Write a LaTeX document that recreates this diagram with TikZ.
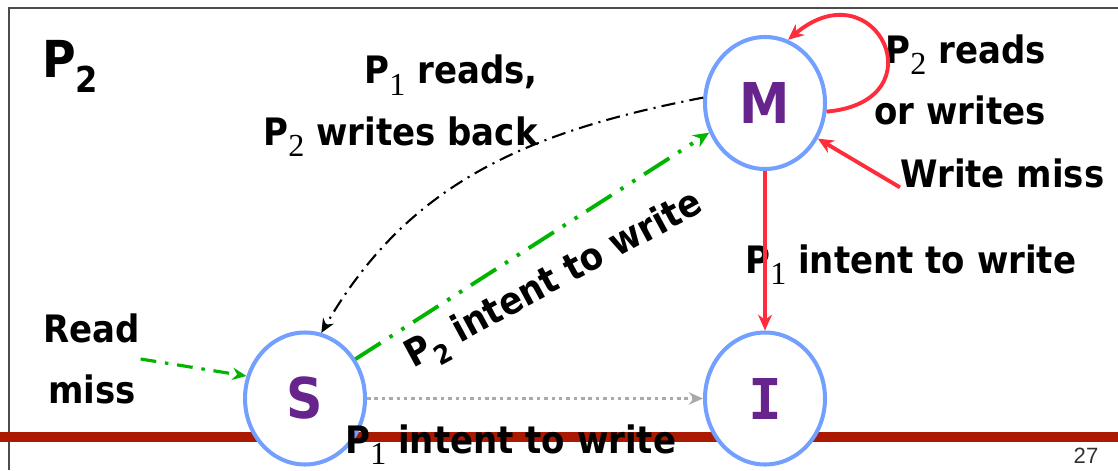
\documentclass[tikz,border=0pt]{standalone}
\usepackage{fontspec}
\setmainfont{DejaVu Sans}[FakeStretch=0.9]
\newfontfamily\subserif{Liberation Serif}[Scale=0.85]
\newfontfamily\subsans{DejaVu Sans}[Scale=0.7,FakeStretch=0.9]
\newfontfamily\statemono{DejaVu Sans Mono}
\newfontfamily\pagefont{Liberation Sans}
\usetikzlibrary{arrows.meta, shapes.geometric}

\definecolor{StateRing}{RGB}{115,160,255}
\definecolor{StateLetter}{RGB}{102,36,140}
\definecolor{BusRed}{RGB}{255,45,60}
\definecolor{BusGreen}{RGB}{0,180,0}
\definecolor{SnoopGray}{RGB}{170,170,170}
\definecolor{SlideBar}{RGB}{170,25,0}

% processor names, with a Times style or a sans subscript
\newcommand{\Pser}[1]{P\raisebox{-0.3em}{\subserif\mdseries #1}}
\newcommand{\Psan}[1]{P\raisebox{-0.3em}{\subsans #1}}

\tikzset{
    state/.style={ellipse, draw=StateRing, line width=2.3pt, fill=white,
        minimum width=2.4cm, minimum height=2.64cm, inner sep=0pt,
        text=StateLetter, font=\fontsize{32}{32}\selectfont\bfseries},
    lbl/.style={inner sep=0pt, font=\fontsize{21.5}{35}\selectfont\bfseries},
    red edge/.style={draw=BusRed, line width=2.2pt,
        -{Stealth[length=9pt, width=8pt]}},
    writeback edge/.style={draw=black, line width=1.2pt,
        dash pattern=on 8pt off 3.5pt on 1.2pt off 3.5pt,
        -{Stealth[length=8pt, width=7pt]}},
    intent edge/.style={draw=BusGreen, line width=2.2pt,
        dash pattern=on 17pt off 6pt on 2pt off 6pt on 2pt off 6pt,
        -{Stealth[length=9pt, width=8pt]}},
    miss edge/.style={draw=BusGreen, line width=1.8pt,
        dash pattern=on 9pt off 5pt on 2pt off 5pt,
        -{Stealth[length=8pt, width=7pt]}},
    snoop edge/.style={draw=SnoopGray, line width=2pt,
        dash pattern=on 2pt off 2.2pt,
        -{Stealth[length=8pt, width=7pt]}}
}

\begin{document}
\begin{tikzpicture}
\useasboundingbox (0,0) rectangle (22.36,9.4);

% slide frame and bottom bar
\draw[black!70, line width=1pt] (0.18,0) -- (0.18,9.24) -- (22.36,9.24);
\draw[SlideBar, line width=0.2cm] (0,0.66) -- (22.36,0.66);

% the three states
\node[state] (M) at (15.3, 7.34) {M};
\node[state] (S) at (6.1, 1.43) {S};
\node[state] (I) at (15.3, 1.43) {\statemono I};

% labels
\node[lbl, anchor=base west, font=\fontsize{29}{29}\selectfont\bfseries]
    (proc) at (0.84, 7.86) {\Psan{2}};
\node[lbl, align=right, anchor=east] (wback) at (10.76, 7.28)
    {\Pser{1} reads,\\ \Pser{2} writes back};
\node[lbl, align=right, anchor=east] (rw) at (20.92, 7.8)
    {\Pser{2} reads\\ or writes};
\node[lbl, anchor=west] (wmiss) at (18.0, 5.94) {Write miss};
\node[lbl, anchor=base west] (p1top) at (14.9, 3.94) {\Pser{1} intent to write};
\node[lbl, align=center] (rmiss) at (1.84, 2.22) {Read\\ miss};
\node[lbl, rotate=28.4] (p2int) at (11.1, 3.76) {\Psan{2} intent to write};
\node[lbl, anchor=base west] (p1bot) at (6.9, 0.34) {\Pser{1} intent to write};
\node[inner sep=0pt, font=\pagefont\fontsize{12.6}{13}\selectfont, text=black!80]
    (page) at (21.72, 0.28) {27};

% transitions
\draw[red edge] (M.-8) to[out=5, in=40, looseness=3.6] (M.70);
\draw[red edge] (wmiss.188) -- (M.-34);
\draw[red edge] (M) -- (I);
\draw[writeback edge] (M.175) to[out=191, in=60] (S.76);
\draw[intent edge] (S.38) -- (M.208);
\draw[miss edge] (rmiss.east) -- (S.159);
\draw[snoop edge] (S) -- (I);

\end{tikzpicture}
\end{document}
